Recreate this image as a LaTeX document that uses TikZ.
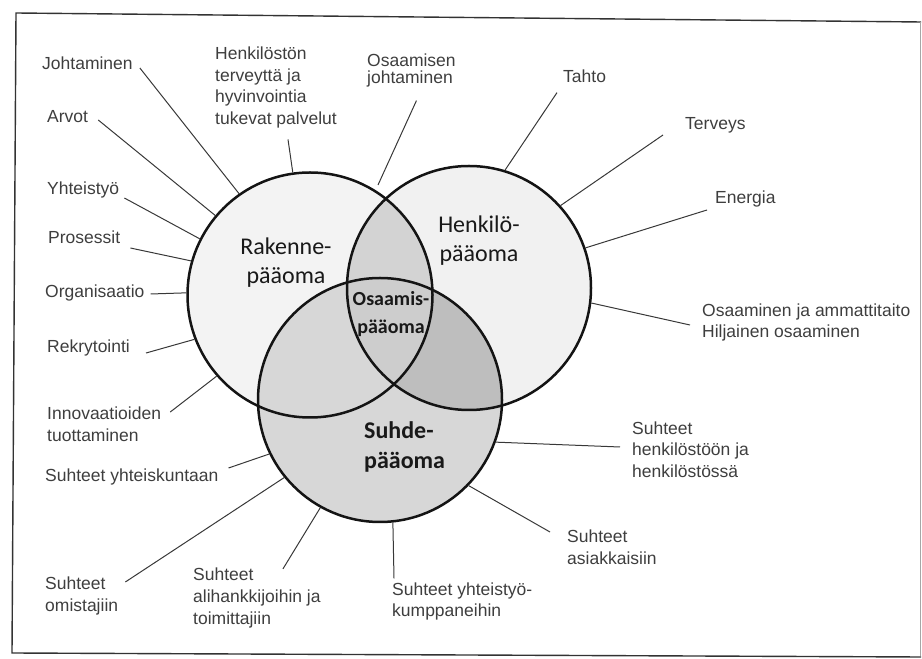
\documentclass[tikz,border=0pt]{standalone}
\usepackage{fontspec}
\setmainfont{Liberation Sans}
\newfontfamily\carlito{Carlito}
\begin{document}
\begin{tikzpicture}[x=1pt,y=1pt,
  lbl/.style={anchor=west, align=left, inner sep=3pt, text=labelgray,
    font=\fontsize{17.5}{21.7}\selectfont},
  big/.style={align=center, inner sep=0pt, text=black!90,
    font=\carlito\fontsize{24}{29}\selectfont},
  ring/.style={circle, draw=black!92, line width=2.5pt, inner sep=0pt},
  conn/.style={draw=black!78, line width=1pt},
]
\definecolor{labelgray}{HTML}{3E3E3E}
\definecolor{fillR}{HTML}{F3F3F3}
\definecolor{fillH}{HTML}{F1F1F1}
\definecolor{fillS}{HTML}{D7D7D7}
\definecolor{fillRH}{HTML}{D3D3D3}
\definecolor{fillSH}{HTML}{BEBEBE}
\definecolor{fillRHS}{HTML}{CDCDCD}

\useasboundingbox (0,0) rectangle (922,659);

% outer frame
\draw[black!80, line width=1.4pt] (921,637) -- (16,646) -- (12,6) -- (921,2);
\draw[black!35, line width=1pt] (920,637) -- (920,3);

% circle centres
\coordinate (cR) at (310,364);
\coordinate (cH) at (469,371);
\coordinate (cS) at (380,259);

% base fills
\fill[fillR] (cR) circle[radius=122.5pt];
\fill[fillH] (cH) circle[radius=122pt];
\fill[fillS] (cS) circle[radius=122pt];
% pairwise overlaps
\begin{scope}
  \clip (cR) circle[radius=122.5pt];
  \fill[fillRH] (cH) circle[radius=122pt];
\end{scope}
\begin{scope}
  \clip (cS) circle[radius=122pt];
  \fill[fillSH] (cH) circle[radius=122pt];
\end{scope}
% common core
\begin{scope}
  \clip (cS) circle[radius=122pt];
  \clip (cR) circle[radius=122.5pt];
  \fill[fillRHS] (cH) circle[radius=122pt];
\end{scope}

% outlines
\node[ring, minimum size=245pt] (R) at (cR) {};
\node[ring, minimum size=244pt] (H) at (cH) {};
\node[ring, minimum size=244pt] (S) at (cS) {};

% area titles
\node[big] (rk) at (286,396.5) {Rakenne-\\pääoma};
\node[big] (hk) at (479,418) {Henkilö-\\pääoma};
\node[big, font=\carlito\bfseries\fontsize{20}{28}\selectfont] (os) at (391,345) {Osaamis-\\pääoma};
\node[big, anchor=west, align=left, font=\carlito\bfseries\fontsize{24}{30}\selectfont] (sh) at (364,212) {Suhde-\\pääoma};

% labels of the structural capital
\node[lbl] (jo) at (39,596) {Johtaminen};
\node[lbl] (ar) at (44,542) {Arvot};
\node[lbl] (hp) at (212,571.5) {Henkilöstön\\terveyttä ja\\hyvinvointia\\tukevat palvelut};
\node[lbl, font=\fontsize{17.5}{17.5}\selectfont] (oj) at (364,588.5) {Osaamisen\\johtaminen};
\node[lbl] (yh) at (44,469) {Yhteistyö};
\node[lbl] (pr) at (45,422) {Prosessit};
\node[lbl] (org) at (42,366) {Organisaatio};
\node[lbl] (re) at (44,311) {Rekrytointi};
\node[lbl] (inn) at (44,234.5) {Innovaatioiden\\tuottaminen};

% labels of the relational capital
\node[lbl] (syk) at (42,182) {Suhteet yhteiskuntaan};
\node[lbl] (som) at (42,63) {Suhteet\\omistajiin};
\node[lbl] (sal) at (190,61) {Suhteet\\alihankkijoihin ja\\toimittajiin};
\node[lbl] (syt) at (389,57.5) {Suhteet yhteistyö-\\kumppaneihin};
\node[lbl] (sas) at (564,111.5) {Suhteet\\asiakkaisiin};
\node[lbl] (she) at (629,209.5) {Suhteet\\henkilöstöön ja\\henkilöstössä};

% labels of the human capital
\node[lbl] (osa) at (699,336.5) {Osaaminen ja ammattitaito\\Hiljainen osaaminen};
\node[lbl] (ta) at (560,583) {Tahto};
\node[lbl] (te) at (682,534) {Terveys};
\node[lbl] (en) at (712,460) {Energia};

\coordinate (ojend) at (378,474);

% connectors
\draw[conn] ([shift={(4pt,-5pt)}]jo.east) -- (R.125);
\draw[conn] ([shift={(7pt,-3pt)}]ar.east) -- (R.140.5);
\draw[conn] ([shift={(12pt,-8pt)}]hp.south) -- (R.98);
\draw[conn] ([shift={(5pt,-10pt)}]oj.south) -- (ojend);
\draw[conn] ([shift={(2pt,-8pt)}]yh.east) -- (R.153.5);
\draw[conn] ([shift={(7pt,-11pt)}]pr.east) -- (R.164.5);
\draw[conn] ([shift={(3pt,-1pt)}]org.east) -- (R.179);
\draw[conn] ([shift={(13pt,-5pt)}]re.east) -- (R.201);
\draw[conn] ([shift={(6pt,-8pt)}]inn.north east) -- (R.221);

\draw[conn] ([shift={(7pt,9pt)}]syk.east) -- (S.206.2);
\draw[conn] ([shift={(4pt,14pt)}]som.east) -- (S.219.5);
\draw[conn] ([shift={(26pt,-4pt)}]sal.north) -- (S.241.4);
\draw[conn] ([shift={(5pt,1pt)}]syt.north west) -- (S.276);
\draw[conn] ([shift={(-14pt,15.5pt)}]sas.west) -- (S.316);
\draw[conn] ([shift={(-9pt,2.5pt)}]she.west) -- (S.340);

\draw[conn] ([shift={(-9pt,-2.5pt)}]osa.west) -- (H.353.1);
\draw[conn] ([shift={(-3pt,-7pt)}]ta.south west) -- (H.73.9);
\draw[conn] ([shift={(-19pt,-10pt)}]te.west) -- (H.42.4);
\draw[conn] ([shift={(-5pt,-11pt)}]en.west) -- (H.19);
\end{tikzpicture}
\end{document}
